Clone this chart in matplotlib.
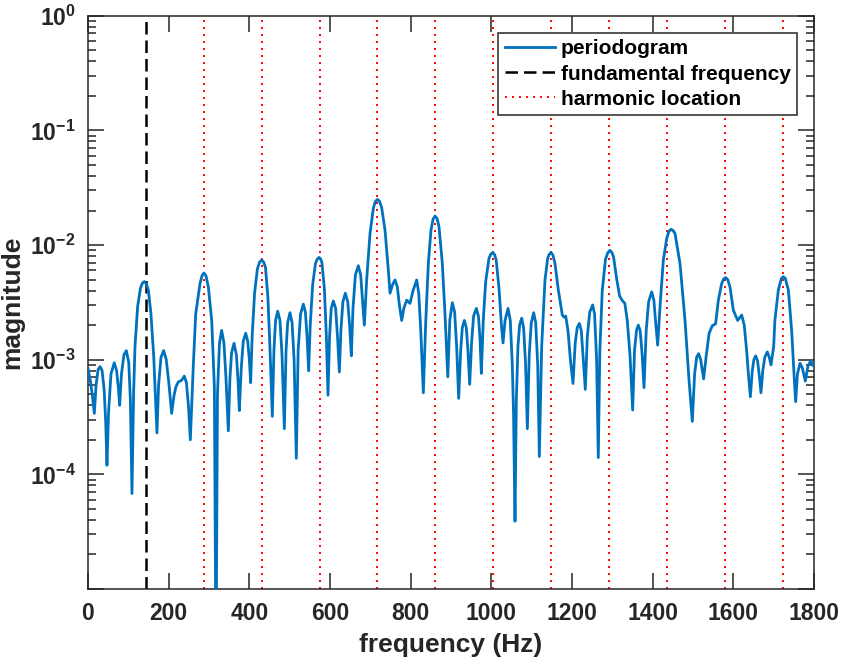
import numpy as np
import matplotlib
matplotlib.use("Agg")
import matplotlib.pyplot as plt
from matplotlib.ticker import FixedLocator, FuncFormatter, LogLocator, NullFormatter

plt.rcParams['font.family'] = ['Liberation Sans', 'DejaVu Sans']
plt.rcParams['font.weight'] = 'bold'
plt.rcParams['mathtext.fontset'] = 'custom'
plt.rcParams['mathtext.rm'] = 'Liberation Sans:bold'
plt.rcParams['mathtext.bf'] = 'Liberation Sans:bold'

# periodogram: (frequency Hz, magnitude)
periodogram = [
    (0, 8.4e-4), (6, 6.5e-4), (11, 4.8e-4), (15.7, 3.4e-4), (20, 6.0e-4), (25, 8.2e-4),
    (30, 8.7e-4), (35, 8.0e-4), (40, 5.5e-4), (44, 2.8e-4), (47, 1.2e-4), (51, 3.5e-4),
    (57, 7.5e-4), (65, 9.4e-4), (71, 8.0e-4), (75, 5.8e-4), (78.5, 4.0e-4), (83, 7.5e-4),
    (89, 1.1e-3), (95, 1.2e-3), (101, 9.5e-4), (105, 4.5e-4), (109, 6.8e-5), (113, 5.0e-4),
    (116.5, 1.3e-3), (123, 2.9e-3), (130, 4.2e-3), (135, 4.65e-3), (139.7, 4.8e-3),
    (144.5, 4.6e-3), (149.6, 4.05e-3), (156, 2.53e-3), (163, 1.06e-3), (167, 5.0e-4),
    (171, 2.3e-4), (175, 6.0e-4), (181, 1.05e-3), (187.6, 1.2e-3), (194, 1.0e-3),
    (200, 6.5e-4), (207.4, 3.4e-4), (213, 4.8e-4), (218, 5.8e-4), (224, 6.4e-4),
    (232, 6.6e-4), (238.8, 7.2e-4), (244, 6.3e-4), (249, 4.0e-4), (253.7, 2.0e-4),
    (261, 8.7e-4), (267, 2.5e-3), (277.7, 4.6e-3), (283, 5.45e-3), (287.6, 5.7e-3),
    (292.5, 5.4e-3), (298.4, 4.3e-3), (306.7, 2.2e-3), (313.3, 5.8e-4), (317.4, 2e-6),
    (321, 5e-4), (326, 1.4e-3), (331.4, 1.8e-3), (337, 1.4e-3), (342, 7e-4), (347.9, 2.4e-4),
    (352, 7e-4), (356, 1.15e-3), (362, 1.39e-3), (368, 1.1e-3), (372, 6.5e-4), (375.2, 3.6e-4),
    (380, 8.5e-4), (385, 1.45e-3), (391, 1.7e-3), (396, 1.45e-3), (400, 1.0e-3), (403.3, 6.3e-4),
    (407, 1.6e-3), (413, 3.8e-3), (420, 6.2e-3), (425.5, 7.1e-3), (430.5, 7.4e-3),
    (435.5, 7.1e-3), (440, 6.4e-3), (446, 3.5e-3), (451, 1.3e-3), (455, 5e-4), (457, 3.2e-4),
    (461, 1.2e-3), (465, 2.2e-3), (470.3, 2.65e-3), (476, 2.2e-3), (481, 1.1e-3), (486.8, 2.5e-4),
    (491, 1.2e-3), (495, 2.1e-3), (500.8, 2.57e-3), (506, 2.1e-3), (511, 1.0e-3), (516.5, 1.38e-4),
    (521, 1.2e-3), (527, 2.5e-3), (533.9, 3.05e-3), (539, 2.6e-3), (543, 1.6e-3), (547.1, 8.0e-4),
    (551, 2.0e-3), (557, 4.5e-3), (564, 6.9e-3), (568, 7.5e-3), (572.7, 7.8e-3), (577, 7.55e-3),
    (580, 7.0e-3), (586, 4.2e-3), (591, 1.6e-3), (595, 4.9e-4),
    (599, 1.6e-3), (603, 2.8e-3), (608.3, 3.25e-3), (614, 2.8e-3), (619, 1.5e-3), (623.2, 7.8e-4),
    (627, 1.8e-3), (632, 3.2e-3), (638, 3.8e-3), (644, 3.2e-3), (649, 1.9e-3), (652.9, 1.08e-3),
    (657, 2.8e-3), (663, 5.5e-3), (670.2, 6.6e-3), (676, 5.5e-3), (681, 3.2e-3), (685.1, 2.0e-3),
    (690.9, 4.96e-3), (699.2, 0.0126), (707.5, 0.0209), (712, 0.0238), (717.4, 0.025),
    (722.5, 0.0242), (728.1, 0.0212), (736.4, 0.0135), (744.6, 6.05e-3), (748.8, 3.8e-3),
    (755, 4.5e-3), (761.2, 4.96e-3), (767, 4.3e-3), (772, 3.0e-3), (777.7, 2.2e-3),
    (783, 2.8e-3), (790.1, 3.3e-3), (798.3, 3.1e-3), (806, 4.0e-3), (814.9, 4.96e-3),
    (820, 3.8e-3), (825, 1.8e-3), (831.4, 5.15e-4),
    (837.2, 2.07e-3), (843.8, 6.9e-3), (850.4, 0.0135), (855.5, 0.0168), (860.4, 0.0179),
    (865.5, 0.017), (870.2, 0.0145), (878.5, 6.9e-3), (885.1, 2.5e-3), (892, 7.1e-4),
    (897, 2.2e-3), (903.3, 3.14e-3), (909, 2.6e-3), (914, 1.3e-3), (919, 4.6e-4),
    (924, 1.2e-3), (928, 1.9e-3), (933, 2.2e-3), (938, 1.9e-3), (942, 1.2e-3), (946.3, 6.1e-4),
    (951, 1.4e-3), (956, 2.4e-3), (962.8, 2.8e-3), (968, 2.4e-3), (972, 1.5e-3), (975.2, 7.6e-4),
    (980, 2.2e-3), (986, 4.8e-3), (994, 7.6e-3), (998.5, 8.3e-3), (1003.4, 8.6e-3),
    (1008, 8.25e-3), (1012, 7.4e-3), (1019, 4.2e-3), (1025, 2.0e-3), (1029, 1.4e-3),
    (1034, 2.2e-3), (1041.4, 2.8e-3), (1047, 2.2e-3), (1052, 9e-4), (1055, 3.5e-4), (1058.7, 3.9e-5),
    (1062, 4.5e-4), (1066, 1.3e-3), (1070, 2.0e-3), (1075.3, 2.3e-3), (1080, 1.9e-3),
    (1085, 9e-4), (1089.3, 2.5e-4), (1094, 1.1e-3), (1099, 2.1e-3), (1105, 2.57e-3),
    (1110, 2.1e-3), (1115, 9e-4), (1119, 1.43e-4),
    (1124.8, 1.3e-3), (1133, 4.96e-3), (1139.7, 7.65e-3), (1143.5, 8.3e-3), (1148, 8.6e-3),
    (1152.5, 8.2e-3), (1157.8, 6.9e-3), (1166.1, 4.05e-3), (1176, 2.45e-3), (1180, 2.35e-3),
    (1184.4, 2.4e-3), (1190, 1.8e-3), (1196, 1.0e-3), (1202.5, 6.2e-4),
    (1208, 1.4e-3), (1213, 1.9e-3), (1218.2, 2.07e-3), (1223, 1.8e-3), (1228, 1.0e-3), (1233, 5.5e-4),
    (1238, 1.6e-3), (1244, 2.6e-3), (1251.2, 3.0e-3), (1256, 2.5e-3), (1261, 1.0e-3), (1265.2, 1.4e-4),
    (1269, 1.2e-3), (1275, 4.0e-3), (1283, 7.5e-3), (1289, 8.6e-3), (1294.2, 9.0e-3),
    (1299, 8.6e-3), (1303, 7.9e-3), (1311, 5.0e-3), (1318, 3.6e-3), (1324.8, 3.27e-3),
    (1331, 3.1e-3), (1337, 2.2e-3), (1343.8, 1.1e-3), (1350.4, 3.64e-4),
    (1355, 1.2e-3), (1360, 1.8e-3), (1364.4, 2.0e-3), (1369, 1.8e-3), (1374, 1.1e-3), (1378.5, 5.7e-4),
    (1384, 1.8e-3), (1390, 3.2e-3), (1397.6, 3.9e-3), (1403, 3.3e-3), (1408, 2.0e-3), (1412.4, 1.34e-3),
    (1418.2, 2.9e-3), (1426.5, 7.4e-3), (1434.8, 0.0114), (1440.5, 0.0132), (1445.4, 0.0137),
    (1450.5, 0.0134), (1455.4, 0.0126), (1467.8, 6.9e-3), (1480.2, 2.2e-3), (1490.1, 6.65e-4),
    (1498.3, 2.9e-4), (1504, 7.5e-4), (1509, 1.05e-3), (1514, 1.13e-3), (1519, 1.0e-3),
    (1526.4, 6.8e-4), (1533, 1.1e-3), (1540, 1.7e-3), (1547.9, 1.98e-3), (1556, 2.05e-3),
    (1562.8, 3.3e-3), (1571, 4.6e-3), (1576, 5.05e-3), (1581, 5.2e-3), (1586, 5.0e-3),
    (1591.8, 4.3e-3), (1600, 2.7e-3), (1610.8, 2.2e-3), (1620.7, 2.45e-3), (1627, 2.0e-3),
    (1633, 1.2e-3), (1638, 7e-4), (1642.2, 4.75e-4),
    (1647, 8e-4), (1651, 1.0e-3), (1655.4, 1.08e-3), (1660, 9.8e-4), (1664, 7.5e-4), (1668.5, 5.15e-4),
    (1673, 8e-4), (1678, 1.05e-3), (1684.3, 1.17e-3), (1689, 1.05e-3), (1693.4, 9.0e-4),
    (1700, 1.3e-3), (1703, 2.2e-3), (1711.6, 4.05e-3), (1719, 5.1e-3), (1724, 5.3e-3),
    (1729, 5.1e-3), (1736.4, 4.05e-3), (1744.6, 1.8e-3), (1750, 8e-4), (1754.5, 4.3e-4),
    (1759, 7.5e-4), (1765.3, 9.3e-4), (1771, 8.5e-4), (1778.5, 6.5e-4), (1785, 8.8e-4),
    (1791.8, 9.8e-4), (1800, 8.7e-4),
]
freq = [p[0] for p in periodogram]
mag = [p[1] for p in periodogram]

f0 = 143.5
harmonics = list(range(2, 13))
xticks = [0, 200, 400, 600, 800, 1000, 1200, 1400, 1600, 1800]
ylabeled = [1e-4, 1e-3, 1e-2, 1e-1, 1e0]

fig = plt.figure(figsize=(8.42, 6.63), dpi=100)
ax = fig.add_axes([88 / 842, 1 - 589 / 663, (814 - 88) / 842, (589 - 15.7) / 663])

txt = '#262626'
ax.semilogy(freq, mag, color='#0072BD', lw=2.0, label='periodogram', zorder=3)
ax.axvline(f0, color='k', lw=1.8, ls=(0, (5.0, 2.4)), label='fundamental frequency', zorder=2)
for k in harmonics:
    ax.axvline(k * f0, color='#FF0000', lw=1.4, ls=(0, (1, 2.6)),
               label='harmonic location' if k == 2 else None, zorder=1)

ax.set_xlim(0, 1800)
ax.set_ylim(1e-5, 1)
ax.xaxis.set_major_locator(FixedLocator(xticks))
ax.yaxis.set_major_locator(FixedLocator([1e-5] + ylabeled))
ax.yaxis.set_major_formatter(FuncFormatter(
    lambda v, p: r'$\mathbf{10^{%d}}$' % round(np.log10(v)) if v > 2e-5 else ''))
ax.yaxis.set_minor_locator(LogLocator(base=10, subs=np.arange(2, 10), numticks=20))
ax.yaxis.set_minor_formatter(NullFormatter())

ax.tick_params(which='both', direction='in', top=True, right=True, colors=txt,
               labelsize=16.5, width=1.1)
ax.tick_params(which='major', length=11.5, pad=9)
ax.tick_params(which='minor', length=6)
for lbl in ax.get_xticklabels():
    lbl.set_fontweight('bold')
for s in ax.spines.values():
    s.set_color(txt)
    s.set_linewidth(1.1)

ax.set_xlabel('frequency (Hz)', fontsize=19, fontweight='bold', color=txt, labelpad=6)
ax.set_ylabel('magnitude', fontsize=19, fontweight='bold', color=txt, labelpad=4)

leg = ax.legend(loc='upper right', bbox_to_anchor=(797 / 842, 1 - 33 / 663),
                bbox_transform=fig.transFigure, borderaxespad=0, fancybox=False,
                framealpha=1, edgecolor=txt, handlelength=2.4,
                handletextpad=0.3, labelspacing=0.3, borderpad=0.3,
                prop={'weight': 'bold', 'size': 15})
leg.get_frame().set_linewidth(1.1)
for t in leg.get_texts():
    t.set_color('k')

fig.savefig('out.png', dpi=100)
